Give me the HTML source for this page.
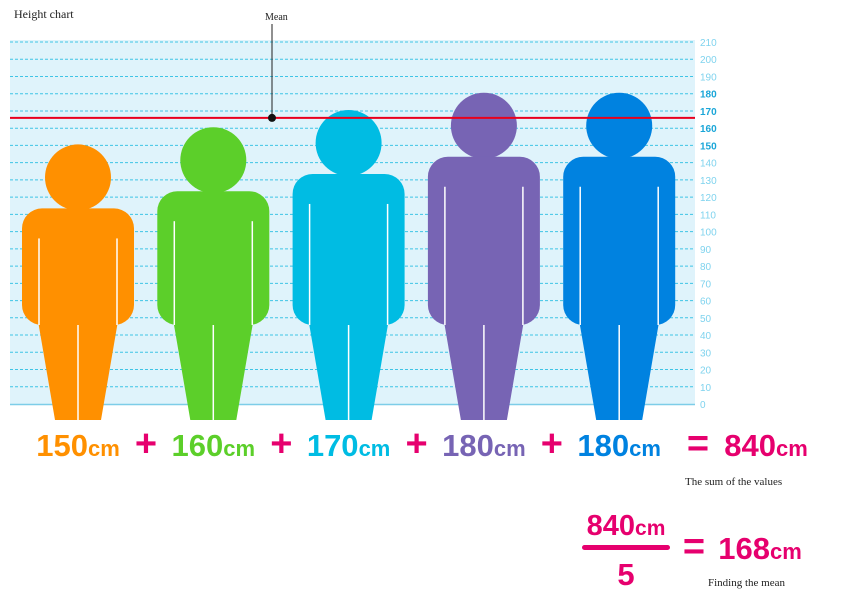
<!DOCTYPE html>
<html><head><meta charset="utf-8"><style>
body{margin:0;background:#fff;width:861px;height:605px;overflow:hidden;font-family:"Liberation Serif",serif}
</style></head><body>
<svg id="c" width="861" height="605" xmlns="http://www.w3.org/2000/svg">
<text x="14" y="18" font-size="12" font-family="Liberation Serif,serif" fill="#222">Height chart</text>
<text x="265" y="20" font-size="10" font-family="Liberation Serif,serif" fill="#222">Mean</text>
<g id="plot"></g>
<g id="eq" font-family="Liberation Sans,sans-serif" font-weight="bold"></g>
<text x="685" y="485" font-size="11" fill="#222">The sum of the values</text>
<text x="708" y="586" font-size="11" fill="#222">Finding the mean</text>
</svg>
<script>
const names=["person-1","person-2","person-3","person-4","person-5"];
const heights=[150,160,170,180,180];
const colors=["#ff9000","#5ccf2a","#00bce3","#7764b4","#0082e0"];
const ticks=[0,10,20,30,40,50,60,70,80,90,100,110,120,130,140,150,160,170,180,190,200,210];
const NS="http://www.w3.org/2000/svg";
const y=v=>404-v*362/210;
const xc=i=>78+i*135.3;
function mk(t,a,p){const e=document.createElementNS(NS,t);for(const k in a)e.setAttribute(k,a[k]);(p||document.getElementById('plot')).appendChild(e);return e;}
const bg=mk('rect',{x:10,y:40,width:685,height:365,fill:"#dff3fb"});


mk('line',{x1:10,x2:695,y1:404.5,y2:404.5,stroke:"#7dcde8","stroke-width":1.5});
ticks.forEach(t=>{
  if(t>0){const l=mk('line',{x1:10,x2:695,y1:y(t),y2:y(t),stroke:"#3fc4e6","stroke-width":1,"stroke-dasharray":"3,2"});
  
  }
  const b=(t>=150&&t<=180);
  const tx=mk('text',{x:700,y:y(t)+4,"font-size":10,"font-family":"Liberation Sans,sans-serif",fill:b?"#1aa6d8":"#7fd3ee","font-weight":b?"bold":"normal"});
  tx.textContent=t;
  
  
});
heights.forEach((h,i)=>{
  const cx=xc(i), top=y(h)-1, bot=420, H=bot-top, r=33;
  const g=mk('g',{fill:colors[i]});
  
  
  mk('circle',{cx:cx,cy:top+r,r:r},g);
  const sh=top+2*r-2, armEnd=bot-95, w=56;
  mk('rect',{x:cx-w,y:sh,width:2*w,height:armEnd-sh,rx:20},g);
  mk('path',{d:`M${cx-41} ${armEnd-10} L${cx+41} ${armEnd-10} L${cx+23} ${bot} L${cx-23} ${bot} Z`},g);
  mk('line',{x1:cx-39,x2:cx-39,y1:sh+30,y2:armEnd,stroke:"#fff","stroke-width":1.5},g);
  mk('line',{x1:cx+39,x2:cx+39,y1:sh+30,y2:armEnd,stroke:"#fff","stroke-width":1.5},g);
  mk('line',{x1:cx,x2:cx,y1:armEnd,y2:bot,stroke:"#fff","stroke-width":1.5},g);
});
const mean=heights.reduce((a,b)=>a+b,0)/heights.length;
const ml=mk('line',{x1:10,x2:695,y1:y(mean)+3.5,y2:y(mean)+3.5,stroke:"#e8001c","stroke-width":2});


mk('line',{x1:272,x2:272,y1:24,y2:y(mean)+3.5,stroke:"#222","stroke-width":1});
mk('circle',{cx:272,cy:y(mean)+3.5,r:4,fill:"#111"});
// equation
const eq=document.getElementById('eq');
function tx(x,yy,s,fill,size,name){const t=mk('text',{x:x,y:yy,"font-size":size,fill:fill,"text-anchor":"middle"},eq);t.textContent=s;return t;}
heights.forEach((h,i)=>{
  const t=mk('text',{x:xc(i),y:456,"text-anchor":"middle",fill:colors[i]},eq);
  
  
  const a=document.createElementNS(NS,'tspan');a.setAttribute('font-size','31');a.textContent=h;t.appendChild(a);
  const b=document.createElementNS(NS,'tspan');b.setAttribute('font-size','22');b.textContent='cm';t.appendChild(b);
  if(i<4)tx(xc(i)+68,456,"+","#e6006e",38,'plus-sign');
});
const sum=heights.reduce((a,b)=>a+b,0);
tx(698,456,"=","#e6006e",38,'equals-sign');
let t=mk('text',{x:766,y:456,"text-anchor":"middle",fill:"#e6006e"},eq);


t.innerHTML=`<tspan font-size="31">${sum}</tspan><tspan font-size="22">cm</tspan>`;
t=mk('text',{x:626,y:535,"text-anchor":"middle",fill:"#e6006e"},eq);


t.innerHTML=`<tspan font-size="29">${sum}</tspan><tspan font-size="21">cm</tspan>`;
mk('rect',{x:582,y:545,width:88,height:5,rx:2.5,fill:"#e6006e"},eq);
tx(626,585,heights.length,"#e6006e",31,'fraction-denominator');
tx(694,559,"=","#e6006e",38,'equals-sign-2');
t=mk('text',{x:760,y:559,"text-anchor":"middle",fill:"#e6006e"},eq);


t.innerHTML=`<tspan font-size="31">${mean}</tspan><tspan font-size="22">cm</tspan>`;
</script>
</body></html>
